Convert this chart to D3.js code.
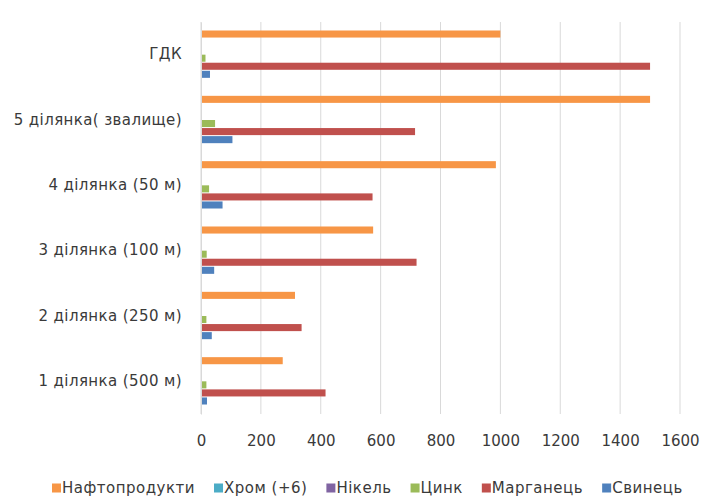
<!DOCTYPE html>
<html>
<head>
<meta charset="utf-8">
<script src="https://d3js.org/d3.v7.min.js"></script>
<style>
  body { margin: 0; background: #fff; }
  svg { display: block; }
</style>
</head>
<body>
<div id="chart"></div>
<script>
// categories bottom -> top
const categories = [
  "1 ділянка (500 м)",
  "2 ділянка (250 м)",
  "3 ділянка (100 м)",
  "4 ділянка (50 м)",
  "5 ділянка( звалище)",
  "ГДК"
];
const seriesNames = ["Нафтопродукти", "Хром (+6)", "Нікель", "Цинк", "Марганець", "Свинець"];
const seriesColors = ["#F79646", "#4BACC6", "#8064A2", "#9BBB59", "#C0504D", "#4F81BD"];

// values per series, same order as categories
const naftoprodukty = [273, 314, 575, 985, 1500, 1000];
const khrom = [1, 1, 1, 1, 2, 1];
const nikel = [2, 2, 2, 2, 3, 2];
const tsynk = [18, 18, 19, 27, 47, 15];
const marganets = [416, 336, 720, 573, 715, 1500];
const svynets = [20, 36, 44, 72, 105, 30];
const seriesValues = [naftoprodukty, khrom, nikel, tsynk, marganets, svynets];

const xTicks = [0, 200, 400, 600, 800, 1000, 1200, 1400, 1600];

const width = 719, height = 497;
const margin = { top: 22, right: 39, bottom: 83, left: 201 };
const innerWidth = width - margin.left - margin.right;
const innerHeight = height - margin.top - margin.bottom;
const textFont = '"DejaVu Sans", sans-serif';
const textColor = "#3a3a3a";

const svg = d3.select("#chart").append("svg")
  .attr("width", width)
  .attr("height", height)
  .style("font-family", textFont);

const g = svg.append("g")
  .attr("transform", `translate(${margin.left}, ${margin.top})`);

const x = d3.scaleLinear().domain([0, 1600]).range([0, innerWidth]);
// top category first in the band domain
const y = d3.scaleBand()
  .domain(categories.slice().reverse())
  .range([0, innerHeight])
  .paddingInner(0.26)
  .paddingOuter(0.13);
const ySub = d3.scaleBand()
  .domain(seriesNames)
  .range([0, y.bandwidth()]);

// gridlines
g.append("g")
  .selectAll("line")
  .data(xTicks)
  .enter()
  .append("line")
  .attr("x1", (d) => x(d))
  .attr("x2", (d) => x(d))
  .attr("y1", 0)
  .attr("y2", innerHeight)
  .attr("stroke", "#d9d9d9")
  .attr("stroke-width", 1);

// bars
const rows = [];
categories.forEach((c, ci) => {
  seriesNames.forEach((s, si) => {
    rows.push({ cat: c, series: s, value: seriesValues[si][ci], color: seriesColors[si] });
  });
});

g.append("g")
  .selectAll("rect")
  .data(rows)
  .enter()
  .append("rect")
  .attr("x", x(0))
  .attr("y", (d) => y(d.cat) + ySub(d.series))
  .attr("width", (d) => x(d.value) - x(0))
  .attr("height", ySub.bandwidth() - 1)
  .attr("fill", (d) => d.color);

// x axis
const xAxis = d3.axisBottom(x).tickValues(xTicks).tickFormat(d3.format("d")).tickSize(0).tickPadding(21);
g.append("g")
  .attr("transform", `translate(0, ${innerHeight})`)
  .call(xAxis)
  .call((a) => a.select(".domain").remove())
  .selectAll("text")
  .style("font-size", "15px")
  .style("font-family", textFont)
  .attr("fill", textColor);

// y axis
const yAxis = d3.axisLeft(y).tickSize(0).tickPadding(19);
g.append("g")
  .call(yAxis)
  .call((a) => a.select(".domain").attr("stroke", "#d9d9d9"))
  .selectAll("text")
  .style("font-size", "15px")
  .style("letter-spacing", "0.4px")
  .style("font-family", textFont)
  .attr("fill", textColor);

// legend
const legend = svg.append("g").attr("transform", "translate(52, 488)");
let lx = 0;
seriesNames.forEach((s, i) => {
  const item = legend.append("g").attr("transform", `translate(${lx}, 0)`);
  item.append("rect")
    .attr("x", 0)
    .attr("y", -4.5)
    .attr("width", 9)
    .attr("height", 9)
    .attr("fill", seriesColors[i]);
  const t = item.append("text")
    .attr("x", 10)
    .attr("y", 0)
    .attr("dy", "0.35em")
    .style("font-size", "15px")
    .style("letter-spacing", "0.5px")
    .attr("fill", textColor)
    .text(s);
  lx += 10 + t.node().getComputedTextLength() + 19;
});
</script>
</body>
</html>
